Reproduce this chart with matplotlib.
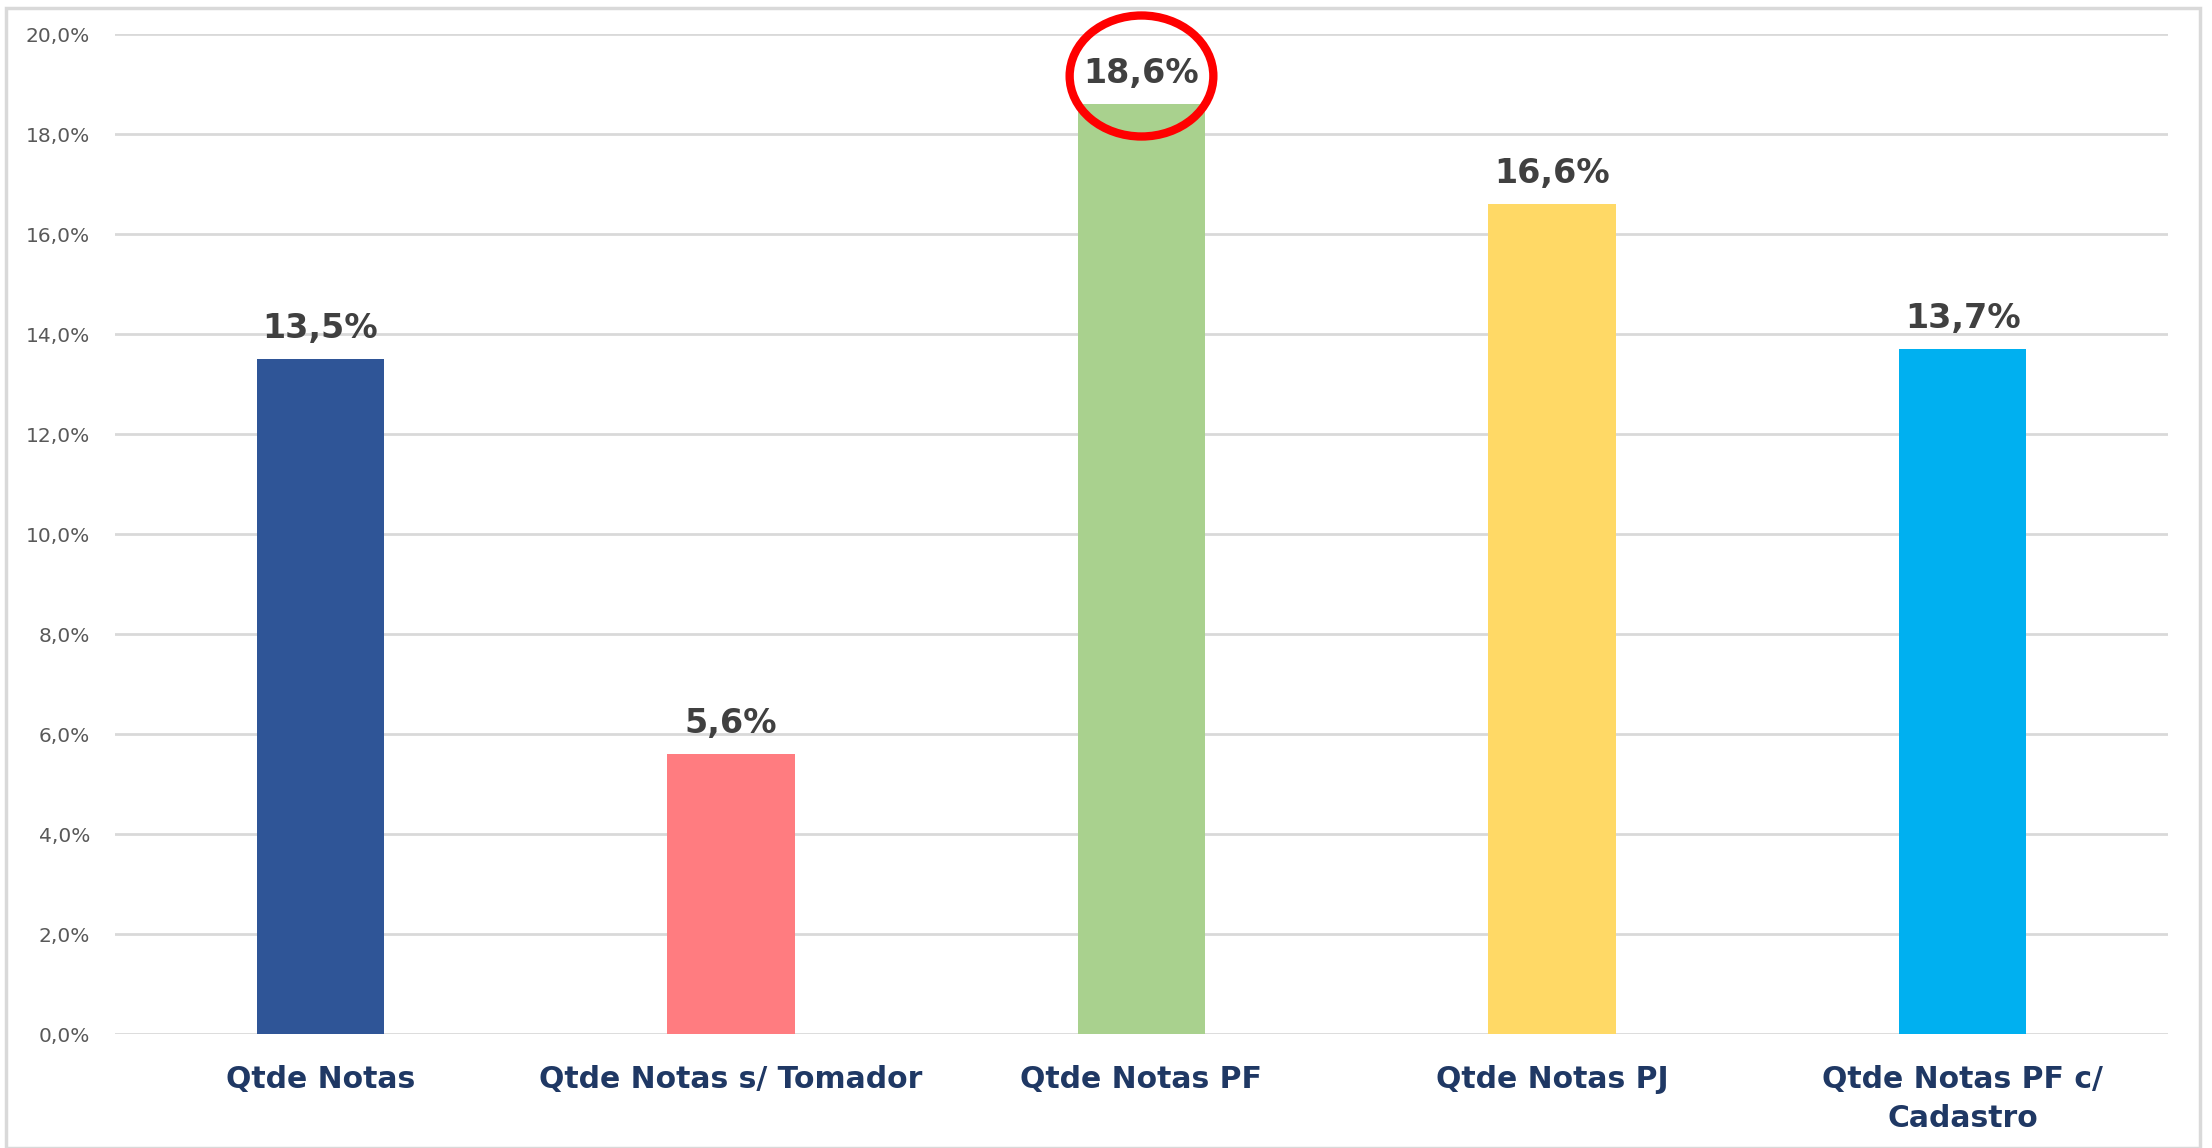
import matplotlib.pyplot as plt
from matplotlib.patches import Ellipse, Rectangle

categories = ['Qtde Notas', 'Qtde Notas s/ Tomador', 'Qtde Notas PF', 'Qtde Notas PJ',
              'Qtde Notas PF c/\nCadastro']
values = [13.5, 5.6, 18.6, 16.6, 13.7]
colors = ['#2F5597', '#FF7C80', '#A9D18E', '#FFD966', '#00B0F0']
yticks = [0, 2, 4, 6, 8, 10, 12, 14, 16, 18, 20]

W, H = 2212, 1148
fig = plt.figure(figsize=(W / 100, H / 100), dpi=100)
ax = fig.add_axes([115 / W, 1 - 1034 / H, (2168 - 115) / W, 1000 / H])

x = range(len(categories))
ax.bar(x, values, width=0.31, color=colors, zorder=3)
ax.set_xlim(-0.5, len(categories) - 0.5)
ax.set_ylim(0, 20)

ax.set_yticks(yticks)
ax.set_yticklabels([('%.1f%%' % t).replace('.', ',') for t in yticks],
                   fontsize=14.5, color='#595959')
ax.tick_params(axis='y', length=0, pad=18)
ax.grid(axis='y', color='#D9D9D9', linewidth=2, zorder=0)

ax.set_xticks(list(x))
ax.set_xticklabels(categories, fontsize=21.5, fontweight='bold', color='#1F3864',
                   linespacing=1.45)
ax.tick_params(axis='x', length=0, pad=22)

for s in ax.spines.values():
    s.set_visible(False)

for i, v in enumerate(values):
    ax.annotate(('%.1f%%' % v).replace('.', ','), (i, v), xytext=(0, 15),
                textcoords='offset points', ha='center', va='baseline',
                fontsize=24, fontweight='bold', color='#404040', zorder=4)

# red highlight around the max value
ax.add_patch(Ellipse((2, 19.16), 0.35, 2.42, fill=False, edgecolor='#FF0000',
                     linewidth=6, clip_on=False, zorder=5))

# light frame around the chart
fig.patches.append(Rectangle((6 / W, 0), (2200 - 6) / W, 1 - 8 / H, transform=fig.transFigure,
                             fill=False, edgecolor='#D9D9D9', linewidth=2.5))

fig.savefig('out.png', dpi=100)
